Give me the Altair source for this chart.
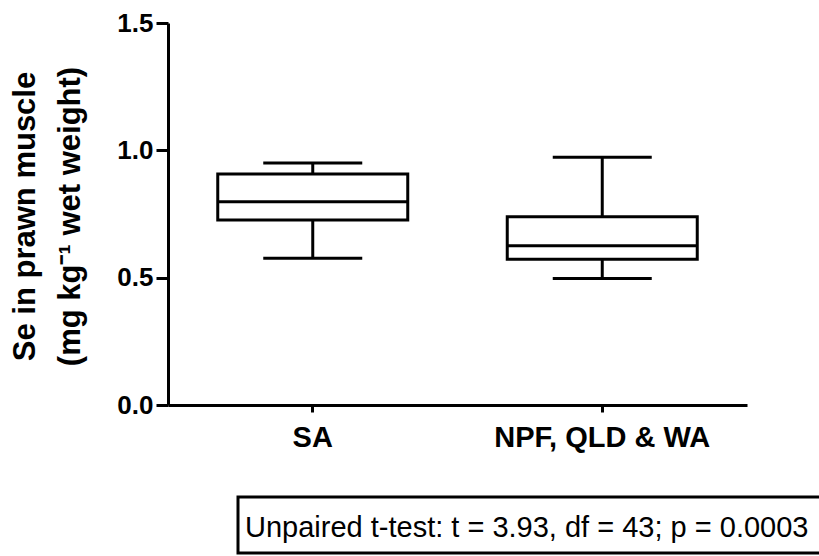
import altair as alt
import pandas as pd

groups = ["SA", "NPF, QLD & WA"]
whisker_low = [0.576, 0.497]
q1 = [0.726, 0.572]
median = [0.798, 0.625]
q3 = [0.907, 0.739]
whisker_high = [0.950, 0.973]

y_ticks = [0.0, 0.5, 1.0, 1.5]
y_title = ["Se in prawn muscle", "(mg kg\u207b\u00b9 wet weight)"]
note_text = "Unpaired t-test: t = 3.93, df = 43; p = 0.0003"

df = pd.DataFrame({
    "group": groups,
    "low": whisker_low,
    "q1": q1,
    "median": median,
    "q3": q3,
    "high": whisker_high,
})
note_df = pd.DataFrame({"note": [note_text]})

FONT = "Liberation Sans"

x_enc = alt.X(
    "group:N",
    sort=groups,
    scale=alt.Scale(paddingInner=0, paddingOuter=0),
    axis=alt.Axis(
        title=None,
        labelAngle=0,
        labelFont=FONT,
        labelFontSize=29,
        labelFontWeight="bold",
        labelColor="black",
        labelLimit=1000,
        tickSize=7,
        tickWidth=3,
        tickColor="black",
        domainWidth=3,
        domainColor="black",
        labelPadding=11,
        grid=False,
    ),
)

y_scale = alt.Scale(domain=[0, 1.5], nice=False, zero=True)
y_axis = alt.Axis(
    values=y_ticks,
    format=".1f",
    labelFont=FONT,
    labelFontSize=26,
    labelFontWeight="bold",
    labelColor="black",
    tickSize=12,
    tickWidth=3,
    tickColor="black",
    domainWidth=3,
    domainColor="black",
    labelPadding=3,
    grid=False,
    title=y_title,
    titleFont=FONT,
    titleFontSize=31,
    titleFontWeight="bold",
    titleColor="black",
    titleX=-134,
    titleY=193,
    titleAlign="center",
    titleBaseline="alphabetic",
    titleLineHeight=45,
    titleLimit=1000,
)

base = alt.Chart(df)

whiskers = base.mark_rule(color="black", strokeWidth=3).encode(
    x=x_enc,
    y=alt.Y("low:Q", scale=y_scale, axis=y_axis),
    y2="high:Q",
)

boxes = base.mark_bar(size=190, fill="white", stroke="black", strokeWidth=3).encode(
    x=x_enc,
    y=alt.Y("q1:Q", scale=y_scale),
    y2="q3:Q",
)

medians = base.mark_tick(size=190, thickness=3, color="black", opacity=1).encode(
    x=x_enc,
    y=alt.Y("median:Q", scale=y_scale),
)

cap_low = base.mark_tick(size=99, thickness=3, color="black", opacity=1).encode(
    x=x_enc,
    y=alt.Y("low:Q", scale=y_scale),
)

cap_high = base.mark_tick(size=99, thickness=3, color="black", opacity=1).encode(
    x=x_enc,
    y=alt.Y("high:Q", scale=y_scale),
)

note_box = alt.Chart(note_df).mark_rect(fill="white", stroke="black", strokeWidth=3).encode(
    x=alt.value(70),
    x2=alt.value(700),
    y=alt.value(474),
    y2=alt.value(530),
)

note_label = alt.Chart(note_df).mark_text(
    align="left", baseline="alphabetic", font=FONT, fontSize=29, color="black"
).encode(
    x=alt.value(77),
    y=alt.value(514),
    text="note:N",
)

chart = (
    alt.layer(whiskers, boxes, medians, cap_low, cap_high, note_box, note_label)
    .properties(
        width=579,
        height=382,
        autosize=alt.AutoSizeParams(type="none"),
        padding={"left": 168, "top": 23, "right": 72, "bottom": 151},
        background="white",
    )
    .configure_view(strokeWidth=0)
)

chart.save("out.html", embed_options={"renderer": "svg", "actions": False})
